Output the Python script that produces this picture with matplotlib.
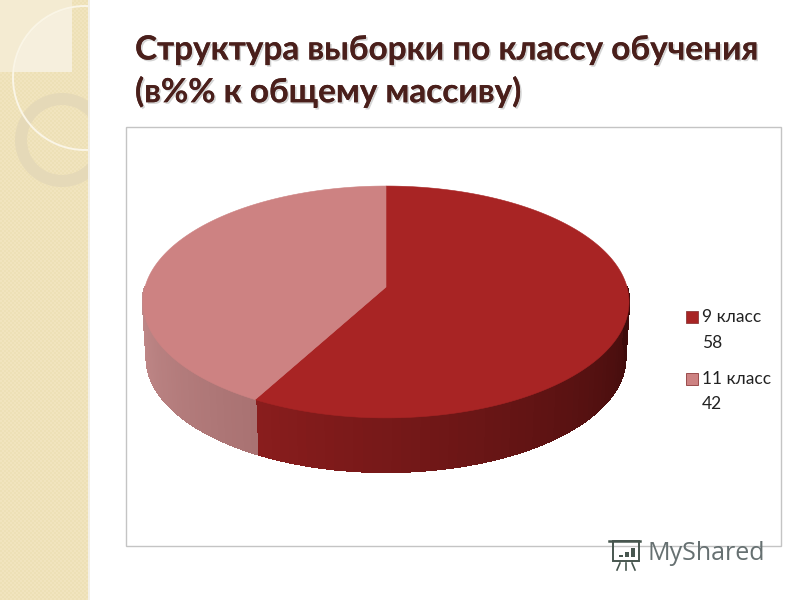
"""Slide with a tilted 3D pie: sample structure by school class."""

import matplotlib
matplotlib.use('Agg')
import matplotlib.pyplot as plt
import matplotlib.patheffects as pe
from matplotlib.colors import to_rgb
from matplotlib.patches import Rectangle, Circle, Wedge
import numpy as np


CATEGORIES = ['9 класс', '11 класс']
VALUES = [58, 42]
TITLE_LINES = ['Структура выборки по классу обучения',
               '(в%% к общему массиву)']
WATERMARK = 'MyShared'

TOP_COLORS = ['#A82424', '#CD8282']
# wall colour at the start and end of the visible arc of each slice
WALL_COLORS = [('#3C0B0B', '#8A1D1D'), ('#A97272', '#C48C8C')]

# projection of the unit disc to pixels
CX, CY = 386, 287
BX, BY, PERSP = 241, 114, 0.129
DEPTH = 54
BOTTOM_SCALE = 0.985


def project(theta, bottom=False):
    """Maps disc rim angles (degrees) to pixel positions."""
    t = np.radians(theta)
    w = 1 + PERSP * np.sin(t)
    x = BX * np.cos(t) / w
    y = BY * np.sin(t) / w
    if bottom:
        return CX + BOTTOM_SCALE * x, CY - BOTTOM_SCALE * y + DEPTH + 2
    return CX + x, CY - y


def slice_angles(values):
    """Start and end rim angles of the slices, clockwise from the top."""
    shares = np.asarray(values, dtype=float) / np.sum(values)
    edges = 90 - 360 * np.concatenate([[0], np.cumsum(shares)])
    return list(zip(edges[:-1], edges[1:]))


def mix(c1, c2, f):
    return tuple((1 - f) * a + f * b for a, b in zip(to_rgb(c1), to_rgb(c2)))


def draw_background(ax):
    # dotted beige strip on the left of the slide
    yy, xx = np.mgrid[0:600, 0:88]
    tile = ((xx // 2 + yy // 2) % 2).astype(float)[..., None]
    strip = (1 - tile) * np.array(to_rgb('#F1E4BE')) \
        + tile * np.array(to_rgb('#EDE0B6'))
    ax.imshow(strip, extent=(0, 88, 600, 0), interpolation='nearest',
              aspect='auto', zorder=1)
    ax.add_patch(Rectangle((88, 0), 2, 600, color='#F3F0E8', lw=0, zorder=1))
    clip = Rectangle((0, 0), 88, 600, transform=ax.transData)

    square = Rectangle((0, 0), 72, 72, color='#F4EBD2', lw=0, zorder=2)
    ax.add_patch(square)
    lens = Circle((85, 78), 71, color='#F6EFDD', lw=0, zorder=2)
    ax.add_patch(lens)
    lens.set_clip_path(square)
    ring = Wedge((62, 140), 47, 0, 360, width=12, color='#E5D9B8', lw=0,
                 zorder=3)
    ax.add_patch(ring)
    ring.set_clip_path(clip)
    rim = Circle((85, 78), 72, fill=False, ec='#FAF5E6', lw=1.4, zorder=4)
    ax.add_patch(rim)
    rim.set_clip_path(clip)


def draw_pie(ax, values):
    for (start, end), top, wall in zip(slice_angles(values), TOP_COLORS,
                                       WALL_COLORS):
        # only the front half of the rim is visible
        lo, hi = max(end, -180), min(start, 0)
        if hi > lo:
            steps = np.linspace(lo, hi, 60)
            for i, (a, b) in enumerate(zip(steps[:-1], steps[1:])):
                # gradient runs from the right hand end to the left hand end
                color = mix(wall[0], wall[1], 1 - (i + 0.5) / 59)
                xt, yt = project(np.array([a, b]))
                xb, yb = project(np.array([b, a]), bottom=True)
                ax.fill(np.r_[xt, xb], np.r_[yt, yb], fc=color, ec=color,
                        lw=1.0, antialiased=False, zorder=5)
        theta = np.linspace(start, end, 200)
        x, y = project(theta)
        ax.fill(np.r_[CX, x], np.r_[CY, y], fc=top, ec=top, lw=0.4, zorder=6)


def draw_legend(ax, categories, values):
    font = dict(family='Lato', fontsize=12.5, color='#222222', va='center',
                ha='left', zorder=8)
    for i, (cat, val, color) in enumerate(zip(categories, values,
                                              TOP_COLORS)):
        y = 317 + i * 61.5
        ax.add_patch(Rectangle((686, y - 6), 12, 12, fc=color, ec='#8E3A3A',
                               lw=0.6, zorder=8))
        ax.text(702, y, cat, **font)
        ax.text(702, y + 25.5, str(val), **font)


def draw_watermark(ax):
    ink = '#47564F'
    ax.text(647, 554, WATERMARK, family='Open Sans', fontsize=18,
            color='#667071', va='center', ha='left', zorder=9)
    ax.add_patch(Rectangle((613, 541), 26, 20, fill=False, ec=ink, lw=1.4,
                           zorder=9))
    ax.plot([609, 640], [541, 541], color=ink, lw=1.8, zorder=9)
    for x, h in zip([619, 625, 631], [2, 5, 9]):
        ax.add_patch(Rectangle((x, 557 - h), 3.5, h, color=ink, lw=0,
                               zorder=9))
    ax.plot([620, 617], [563, 570], color=ink, lw=1.2, zorder=9)
    ax.plot([626, 626], [563, 570], color=ink, lw=1.2, zorder=9)
    ax.plot([632, 635], [563, 570], color=ink, lw=1.2, zorder=9)


def make_plot(name):
    fig = plt.figure(figsize=(8, 6), dpi=100)
    ax = fig.add_axes([0, 0, 1, 1])

    draw_background(ax)

    ax.add_patch(Rectangle((126, 127), 655, 419, fc='white', ec='#C4C4C4',
                           lw=1.0, zorder=2))
    draw_pie(ax, VALUES)
    draw_legend(ax, CATEGORIES, VALUES)
    draw_watermark(ax)

    shadow = [pe.withSimplePatchShadow(offset=(1.2, -1.2),
                                       shadow_rgbFace='#AAAAAA', alpha=0.5),
              pe.Normal()]
    for line, y in zip(TITLE_LINES, [50, 92]):
        ax.text(135, y, line, family='Lato', weight='bold', fontsize=24,
                color='#4A1F1B', va='center', ha='left', zorder=9,
                path_effects=shadow)

    ax.set_xlim(0, 800)
    ax.set_ylim(600, 0)
    ax.axis('off')
    fig.savefig(name, facecolor='white')


if __name__ == '__main__':
    make_plot('out.png')
